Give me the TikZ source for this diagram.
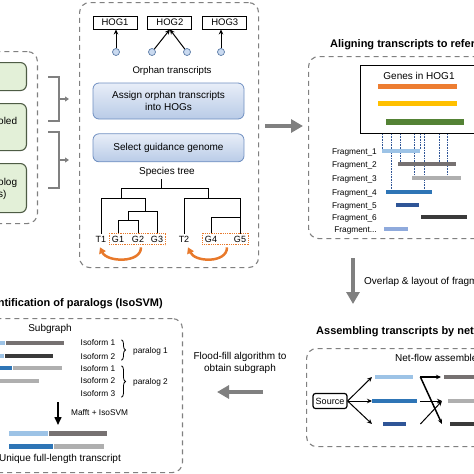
\documentclass[tikz,border=0pt]{standalone}
\usepackage{fontspec}
\setmainfont{Liberation Sans}
\usepackage{tikz}
\usetikzlibrary{arrows.meta, positioning, calc, fit, backgrounds, decorations.pathreplacing}
\definecolor{PanelGray}{HTML}{808080}
\definecolor{BoxBlue}{HTML}{6F8FC1}
\definecolor{BoxBlueTop}{HTML}{E8EEF8}
\definecolor{BoxBlueBot}{HTML}{B9CBE7}
\definecolor{LeafGreen}{HTML}{E3F0D8}
\definecolor{LeafEdge}{HTML}{4E5C45}
\definecolor{CircBlue}{HTML}{CADAF0}
\definecolor{CircEdge}{HTML}{5B7BA6}
\definecolor{TreeOrange}{HTML}{E8792B}
\definecolor{GeneOrange}{HTML}{ED7D31}
\definecolor{GeneYellow}{HTML}{FFC000}
\definecolor{GeneGreen}{HTML}{548235}
\definecolor{FragLight}{HTML}{9DC3E6}
\definecolor{FragGray}{HTML}{767171}
\definecolor{FragSilver}{HTML}{AFAFAF}
\definecolor{FragBlue}{HTML}{2E75B6}
\definecolor{FragNavy}{HTML}{2F5597}
\definecolor{FragDark}{HTML}{3A3A3A}
\definecolor{FragPale}{HTML}{8FAADC}
\tikzset{
  % Panel styles
  panelbox/.style={rectangle, draw=PanelGray, line width=1.1pt, dash pattern=on 5pt off 4pt, rounded corners=10pt, inner sep=0pt},
  titletext/.style={font=\fontsize{11}{13}\selectfont\bfseries, inner sep=0pt},
  % Box styles
  inputbox/.style={rectangle, rounded corners=6pt, draw=LeafEdge, line width=1.1pt, fill=LeafGreen, minimum width=120pt, inner sep=0pt},
  stepbox/.style={rectangle, rounded corners=6pt, draw=BoxBlue, line width=0.8pt, top color=BoxBlueTop, bottom color=BoxBlueBot, minimum width=151pt, font=\fontsize{10}{11.5}\selectfont, align=center, inner sep=0pt},
  hogbox/.style={rectangle, draw=black, line width=0.9pt, minimum width=44pt, minimum height=13pt, inner sep=0pt, font=\fontsize{9.5}{11}\selectfont},
  genebox/.style={rectangle, draw=black, line width=0.9pt, inner sep=0pt},
  sourcebox/.style={rectangle, rounded corners=2.5pt, draw=black, line width=1.2pt, minimum width=34pt, minimum height=15pt, inner sep=0pt, font=\fontsize{9}{10}\selectfont},
  groupbox/.style={rectangle, draw=TreeOrange, densely dotted, line width=0.8pt, inner sep=2.5pt},
  % Node styles
  orphan/.style={circle, draw=CircEdge, fill=CircBlue, line width=0.7pt, minimum size=7pt, inner sep=0pt},
  seg/.style={rectangle, inner sep=0pt, minimum height=4.5pt, anchor=west},
  smalltext/.style={font=\fontsize{8.3}{9.5}\selectfont, inner sep=0pt},
  bodytext/.style={font=\fontsize{10}{12}\selectfont, inner sep=0pt, align=center},
  leaftext/.style={font=\fontsize{9}{10}\selectfont, inner sep=0pt},
  % Arrow styles
  arrow/.style={-{Stealth[length=5pt, width=4.5pt]}, line width=1pt, black},
  thickarrow/.style={-{Stealth[length=5pt, width=4.5pt]}, line width=1.5pt, black},
  grayarrow/.style={-{Triangle[length=12pt, width=13pt]}, line width=4pt, PanelGray},
  bracketline/.style={line width=1.5pt, PanelGray},
  bracketarrow/.style={-{Triangle[length=4pt, width=5pt]}, line width=1.5pt, PanelGray},
  swaparrow/.style={-{Triangle[length=6pt, width=7pt]}, line width=2.5pt, TreeOrange},
  treeline/.style={line width=0.9pt, black},
  guide/.style={densely dotted, line width=0.6pt, FragNavy},
  paralogbrace/.style={decorate, decoration={brace, amplitude=4pt}, line width=0.8pt, black}
}

\begin{document}
\begin{tikzpicture}[x=1pt, y=-1pt]
  \useasboundingbox (0,0) rectangle (474,474);
  \clip (0,0) rectangle (474,474);

  % Input panel (cut by the left edge)
  \node[panelbox, anchor=north east, minimum width=110pt, minimum height=172pt] (inpanel) at (38,51) {};
  \node[inputbox, anchor=north east, minimum height=28pt] (inA) at (27,62) {};
  \node[inputbox, anchor=north east, minimum height=47pt] (inB) at (27,103) {};
  \node[inputbox, anchor=north east, minimum height=49pt] (inC) at (27,163) {};
  \node[bodytext, anchor=west] (inBtext) at (-2,121) {oled};
  \node[bodytext, anchor=west, align=left] (inCtext) at (-2,189) {olog\\s)};

  % Links into the orthology panel
  \coordinate (brAtop) at (48,77);
  \coordinate (brAbot) at (48,121);
  \coordinate (brBtop) at (48,132);
  \coordinate (brBbot) at (48,188);
  \draw[bracketline] (brAtop) -- ++(11,0) |- (brAbot);
  \draw[bracketline] (brBtop) -- ++(11,0) |- (brBbot);
  \draw[bracketarrow] ($(brAtop)!0.5!(brAbot)+(11,0)$) -- ++(10,0);
  \draw[bracketarrow] ($(brBtop)!0.5!(brBbot)+(11,0)$) -- ++(10,0);

  % Orthology panel
  \node[panelbox, anchor=north west, minimum width=179pt, minimum height=265pt] (orthpanel) at (79,2) {};
  \node[hogbox] (hog1) at (115,22.5) {HOG1};
  \node[hogbox, right=10pt of hog1] (hog2) {HOG2};
  \node[hogbox, right=10pt of hog2] (hog3) {HOG3};
  \node[orphan] (orph1) at (116,52) {};
  \node[orphan] (orph2) at (152,52) {};
  \node[orphan] (orph3) at (187,52) {};
  \node[orphan] (orph4) at (221,52) {};
  \draw[arrow] (orph1) -- (orph1 |- hog1.south);
  \draw[arrow] (orph2) -- (hog2.south);
  \draw[arrow] (orph3) -- (hog2.south);
  \draw[arrow] (orph4) -- (orph4 |- hog3.south);
  \node[bodytext, font=\fontsize{9.6}{11}\selectfont] (orphlab) at (172,71) {Orphan transcripts};
  \node[stepbox, minimum height=36pt] (assign) at (168.5,101) {Assign orphan transcripts\\into HOGs};
  \node[stepbox, minimum height=28pt, below=14pt of assign] (select) {Select guidance genome};

  % Species tree
  \node[bodytext] (treelab) at (167,172) {Species tree};
  \node[leaftext] (t1) at (101,239) {T1};
  \node[leaftext] (g1) at (118,239) {G1};
  \node[leaftext] (g2) at (138,239) {G2};
  \node[leaftext] (g3) at (157,239) {G3};
  \node[leaftext] (t2) at (184,239) {T2};
  \node[leaftext] (g4) at (211,239) {G4};
  \node[leaftext] (g5) at (240,239) {G5};
  \coordinate (nroot) at (161,188);
  \coordinate (nL) at (121,198);
  \coordinate (nLL) at (145,211);
  \coordinate (nLLL) at (128,220);
  \coordinate (nR) at (208,198);
  \coordinate (nRR) at (240,217);
  \draw[treeline] (161,179) -- (nroot);
  \draw[treeline] (nroot) -| (nL);
  \draw[treeline] (nroot) -| (nR);
  \draw[treeline] (nL) -| ([yshift=2pt]t1.north);
  \draw[treeline] (nL) -| (nLL);
  \draw[treeline] (nLL) -| ([yshift=2pt]g3.north);
  \draw[treeline] (nLL) -| (nLLL);
  \draw[treeline] (nLLL) -| ([yshift=2pt]g1.north);
  \draw[treeline] (nLLL) -| ([yshift=2pt]g2.north);
  \draw[treeline] (nR) -| ([yshift=2pt]t2.north);
  \draw[treeline] (nR) -| ([yshift=2pt]g5.north);
  \draw[treeline] (nRR) -| ([yshift=2pt]g4.north);
  \node[groupbox, fit=(g1)(g3)] (grpA) {};
  \node[groupbox, fit=(g4)(g5)] (grpB) {};
  \draw[swaparrow] ([xshift=3pt, yshift=-5pt]g2.south) .. controls +(0,16) and +(7,15) .. ([xshift=-1pt, yshift=-5pt]t1.south);
  \draw[swaparrow] ([xshift=16pt, yshift=-5pt]g4.south) .. controls +(0,16) and +(7,15) .. ([xshift=4pt, yshift=-5pt]t2.south);

  % Orthology panel to alignment panel
  \coordinate (toAlignA) at (265,126);
  \coordinate (toAlignB) at (303,126);
  \draw[grayarrow] (toAlignA) -- (toAlignB);

  % Alignment panel
  \node[titletext, anchor=base west] (aligntitle) at (330,47) {Aligning transcripts to reference};
  \node[panelbox, anchor=north west, minimum width=260pt, minimum height=182pt] (alignpanel) at (308,56) {};
  \node[genebox, anchor=north west, minimum width=160pt, minimum height=68pt] (genebox) at (360,65) {};
  \node[bodytext] (genelab) at (419,76) {Genes in HOG1};
  \node[seg, fill=GeneOrange, minimum width=79pt, minimum height=5pt] (gorange) at (378,86) {};
  \node[seg, fill=GeneYellow, minimum width=79pt, minimum height=5pt] (gyellow) at (378,103) {};
  \node[seg, fill=GeneGreen, minimum width=78pt, minimum height=5.5pt] (ggreen) at (386,122) {};
  \foreach \n/\x/\w/\c/\y in {1/382/38/FragLight/151, 2/398/58/FragGray/164, 3/412/49/FragSilver/178, 4/386/46/FragBlue/192, 5/396/23/FragNavy/205, 6/421/46/FragDark/217}{
    \node[seg, fill=\c, minimum width=\w pt] (f\n) at (\x,\y) {};
    \node[smalltext, anchor=base east] (lf\n) at (377,\y+3) {Fragment\_\n};
  }
  \node[seg, fill=FragPale, minimum width=24pt] (f7) at (384,229) {};
  \node[smalltext, anchor=base east] (lf7) at (377,232) {Fragment...};
  \begin{scope}[on background layer]
    \foreach \x/\f in {382/f1, 420/f1, 400/f2, 439/f2, 414/f3, 447/f3, 391/f4, 424/f4}
      \draw[guide] (genebox.south -| \x,0) -- (\f.north -| \x,0);
  \end{scope}

  % Alignment panel to assembly panel
  \coordinate (toAsmA) at (353,258);
  \coordinate (toAsmB) at (353,304);
  \draw[grayarrow] (toAsmA) -- (toAsmB);
  \node[bodytext, anchor=base west] (ovlab) at (364,284) {Overlap \& layout of fragments};

  % Assembly panel
  \node[titletext, anchor=base west] (asmtitle) at (316,334) {Assembling transcripts by network flow};
  \node[panelbox, anchor=north west, minimum width=260pt, minimum height=98pt] (asmpanel) at (306,348) {};
  \node[bodytext, anchor=base west] (netlab) at (395,361) {Net-flow assembler};
  \node[sourcebox] (source) at (330,401) {Source};
  \node[seg, fill=FragLight, minimum width=38pt] (s1) at (375,377) {};
  \node[seg, fill=FragBlue, minimum width=45pt] (s2) at (372,401) {};
  \node[seg, fill=FragNavy, minimum width=23pt] (s3) at (383,424) {};
  \node[seg, fill=FragGray, minimum width=60pt] (e1) at (444,377) {};
  \node[seg, fill=FragSilver, minimum width=60pt] (e2) at (448,401) {};
  \node[seg, fill=FragDark, minimum width=60pt] (e3) at (450,424) {};
  \draw[arrow] (source.east) -- ([xshift=-3pt]s1.west);
  \draw[arrow] (source.east) -- (s2.west);
  \draw[arrow] (source.east) -- ([xshift=-11pt]s3.west);
  \draw[thickarrow] ([xshift=7pt]s1.east) -- ([xshift=-3pt]e1.west);
  \draw[thickarrow] ([xshift=7pt]s1.east) -- ([xshift=-8pt]e3.west);
  \draw[arrow] ([xshift=3pt]s2.east) -- ([xshift=-6pt]e2.west);
  \draw[arrow] ([xshift=14pt]s3.east) -- ([xshift=-6pt]e2.west);

  % Assembly panel to paralog panel
  \coordinate (toIsoA) at (263,392);
  \coordinate (toIsoB) at (217,392);
  \draw[grayarrow] (toIsoA) -- (toIsoB);
  \node[bodytext] (fflab) at (240,363) {Flood-fill algorithm to\\obtain subgraph};

  % Paralog panel (cut by the left edge)
  \node[titletext, anchor=base east] (isotitle) at (163,306) {Identification of paralogs (IsoSVM)};
  \node[panelbox, anchor=north east, minimum width=263pt, minimum height=154pt] (isopanel) at (183,318) {};
  \node[bodytext] (sublab) at (50,329) {Subgraph};
  \node[seg, fill=FragLight, minimum width=35pt] (r1a) at (-30,343) {};
  \node[seg, fill=FragGray, minimum width=58pt, right=0pt of r1a] (r1b) {};
  \node[seg, fill=FragLight, minimum width=34pt] (r2a) at (-30,356) {};
  \node[seg, fill=FragDark, minimum width=48pt, right=0pt of r2a] (r2b) {};
  \node[seg, fill=FragBlue, minimum width=42pt] (r3a) at (-30,368) {};
  \node[seg, fill=FragSilver, minimum width=49pt, right=0pt of r3a] (r3b) {};
  \node[seg, fill=FragSilver, minimum width=69pt] (r4a) at (-30,381) {};
  \node[smalltext] (iso1) at (98,343) {Isoform 1};
  \node[smalltext] (iso2) at (98,357) {Isoform 2};
  \node[smalltext] (iso3) at (98,369) {Isoform 1};
  \node[smalltext] (iso4) at (98,381) {Isoform 2};
  \node[smalltext] (iso5) at (98,394) {Isoform 3};
  \draw[paralogbrace] ([xshift=6pt]iso1.north east) -- ([xshift=6pt]iso2.south east);
  \draw[paralogbrace] ([xshift=6pt]iso3.north east) -- ([xshift=6pt]iso5.south east);
  \node[smalltext, anchor=west] (par1) at (133,351) {paralog 1};
  \node[smalltext, anchor=west] (par2) at (133,382) {paralog 2};
  \coordinate (mafA) at (58,402);
  \coordinate (mafB) at (58,425);
  \draw[thickarrow, -{Triangle[length=8pt, width=7pt]}] (mafA) -- (mafB);
  \node[smalltext, anchor=west] (maflab) at (71,413) {Mafft + IsoSVM};
  \node[seg, fill=FragLight, minimum width=39pt, minimum height=5pt] (u1a) at (9,433) {};
  \node[seg, fill=FragGray, minimum width=58pt, minimum height=5pt, right=0pt of u1a] (u1b) {};
  \node[seg, fill=FragBlue, minimum width=44pt, minimum height=5pt] (u2a) at (9,446) {};
  \node[seg, fill=FragSilver, minimum width=50pt, minimum height=5pt, right=0pt of u2a] (u2b) {};
  \node[bodytext] (uniqlab) at (60,459) {Unique full-length transcript};
\end{tikzpicture}
\end{document}
